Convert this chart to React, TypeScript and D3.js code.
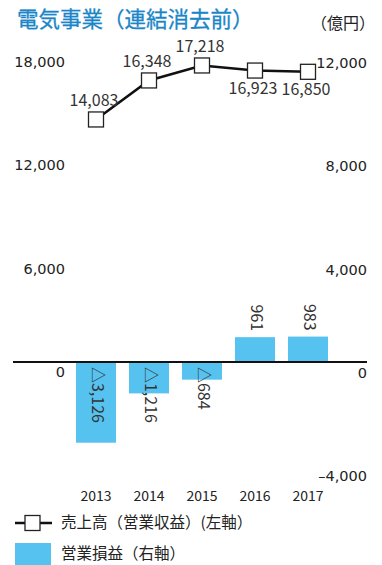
import { useRef, useEffect } from 'react';
import * as d3 from 'd3';

const years = ['2013', '2014', '2015', '2016', '2017'];
const sales = [14083, 16348, 17218, 16923, 16850];
const salesLabelSide = ['above', 'above', 'above', 'below', 'below'];
const profit = [-3126, -1216, -684, 961, 983];
const leftTicks = [0, 6000, 12000, 18000];
const rightTicks = [-4000, 0, 4000, 8000, 12000];

const FONT = "'Noto Sans CJK JP', 'Noto Sans', sans-serif";
const NUM_FONT = "'DejaVu Sans', sans-serif";
const BLUE = '#56c2f0';

const App = () => {
  const svgRef = useRef<SVGSVGElement>(null);

  useEffect(() => {
    if (!svgRef.current) return;
    const width = 382;
    const height = 565;

    const svg = d3
      .select(svgRef.current)
      .attr('width', width)
      .attr('height', height)
      .attr('viewBox', [0, 0, width, height])
      .style('font-family', FONT);

    svg.selectAll('*').remove();

    const x = d3
      .scaleBand()
      .domain(years)
      .range([69.5, 334.5])
      .paddingInner(0.245)
      .paddingOuter(0.1225);
    const cx = (y: string) => x(y)! + x.bandwidth() / 2;

    const yL = d3.scaleLinear().domain([0, 18000]).range([362, 52]);
    const yR = d3.scaleLinear().domain([-4000, 12000]).range([465.3, 52]);

    const fmt = d3.format(',');

    // title + unit
    svg
      .append('text')
      .attr('x', 17)
      .attr('y', 21)
      .attr('dominant-baseline', 'middle')
      .attr('font-size', 21.5)
      .attr('fill', '#1a86c8')
      .attr('stroke', '#1a86c8')
      .attr('stroke-width', 0.3)
      .text('電気事業（連結消去前）');

    svg
      .append('text')
      .attr('x', 375)
      .attr('y', 25)
      .attr('dominant-baseline', 'middle')
      .attr('text-anchor', 'end')
      .attr('font-size', 16)
      .attr('fill', '#222')
      .text('（億円）');

    // axis labels
    svg
      .append('g')
      .style('font-family', NUM_FONT)
      .selectAll('text')
      .data(leftTicks)
      .join('text')
      .attr('x', 65)
      .attr('y', (d) => yL(d) + 11)
      .attr('text-anchor', 'end')
      .attr('dominant-baseline', 'middle')
      .attr('font-size', 14.5)
      .attr('fill', '#222')
      .text((d) => fmt(d));

    svg
      .append('g')
      .style('font-family', NUM_FONT)
      .selectAll('text')
      .data(rightTicks)
      .join('text')
      .attr('x', 367)
      .attr('y', (d) => yR(d) + 12)
      .attr('text-anchor', 'end')
      .attr('dominant-baseline', 'middle')
      .attr('font-size', 14.5)
      .attr('fill', '#222')
      .text((d) => (d < 0 ? '–' + fmt(-d) : fmt(d)));

    // bars
    svg
      .append('g')
      .attr('fill', BLUE)
      .selectAll('rect')
      .data(profit)
      .join('rect')
      .attr('x', (_, i) => x(years[i])!)
      .attr('y', (d) => yR(Math.max(0, d)))
      .attr('width', x.bandwidth())
      .attr('height', (d) => Math.abs(yR(d) - yR(0)));

    svg
      .append('g')
      .selectAll('text')
      .data(profit)
      .join('text')
      .attr('transform', (d, i) => {
        const ty = d < 0 ? yR(0) + 5 : yR(d) - 6;
        return `translate(${cx(years[i])},${ty}) rotate(90)`;
      })
      .attr('text-anchor', (d) => (d < 0 ? 'start' : 'end'))
      .attr('dominant-baseline', 'middle')
      .attr('font-size', 16)
      .attr('fill', '#333')
      .text((d) => (d < 0 ? '△' + fmt(-d) : fmt(d)));

    // zero line
    svg
      .append('line')
      .attr('x1', 13)
      .attr('x2', 367)
      .attr('y1', yR(0))
      .attr('y2', yR(0))
      .attr('stroke', '#111')
      .attr('stroke-width', 2);

    // sales line
    const line = d3
      .line<number>()
      .x((_, i) => cx(years[i]))
      .y((d) => yL(d));

    svg
      .append('path')
      .datum(sales)
      .attr('d', line)
      .attr('fill', 'none')
      .attr('stroke', '#111')
      .attr('stroke-width', 2.5);

    const m = 15;
    svg
      .append('g')
      .selectAll('rect')
      .data(sales)
      .join('rect')
      .attr('x', (_, i) => cx(years[i]) - m / 2)
      .attr('y', (d) => yL(d) - m / 2)
      .attr('width', m)
      .attr('height', m)
      .attr('fill', '#fff')
      .attr('stroke', '#222')
      .attr('stroke-width', 1.3);

    svg
      .append('g')
      .selectAll('text')
      .data(sales)
      .join('text')
      .attr('x', (_, i) => cx(years[i]) - 2)
      .attr('y', (d, i) => yL(d) + (salesLabelSide[i] === 'above' ? -18 : 19))
      .attr('text-anchor', 'middle')
      .attr('dominant-baseline', 'middle')
      .attr('font-size', 16)
      .attr('fill', '#333')
      .text((d) => fmt(d));

    // years
    svg
      .append('g')
      .selectAll('text')
      .data(years)
      .join('text')
      .attr('x', (d) => cx(d))
      .attr('y', 497)
      .attr('text-anchor', 'middle')
      .attr('dominant-baseline', 'middle')
      .attr('font-size', 14)
      .attr('fill', '#222')
      .text((d) => d);

    // legend
    const lg = svg.append('g');
    lg.append('line')
      .attr('x1', 15)
      .attr('x2', 52)
      .attr('y1', 523)
      .attr('y2', 523)
      .attr('stroke', '#111')
      .attr('stroke-width', 2.5);
    lg.append('rect')
      .attr('x', 25)
      .attr('y', 523 - m / 2)
      .attr('width', m)
      .attr('height', m)
      .attr('fill', '#fff')
      .attr('stroke', '#222')
      .attr('stroke-width', 1.3);
    lg.append('text')
      .attr('x', 61)
      .attr('y', 524)
      .attr('dominant-baseline', 'middle')
      .attr('font-size', 15.5)
      .attr('fill', '#222')
      .text('売上高（営業収益）(左軸）');
    lg.append('rect')
      .attr('x', 15)
      .attr('y', 543)
      .attr('width', 36)
      .attr('height', 22)
      .attr('fill', BLUE);
    lg.append('text')
      .attr('x', 61)
      .attr('y', 555)
      .attr('dominant-baseline', 'middle')
      .attr('font-size', 15.5)
      .attr('fill', '#222')
      .text('営業損益（右軸）');
  }, []);

  return (
    <div>
      <svg ref={svgRef} style={{ position: 'absolute', left: 0, top: 0 }}></svg>
    </div>
  );
};

export default App;
